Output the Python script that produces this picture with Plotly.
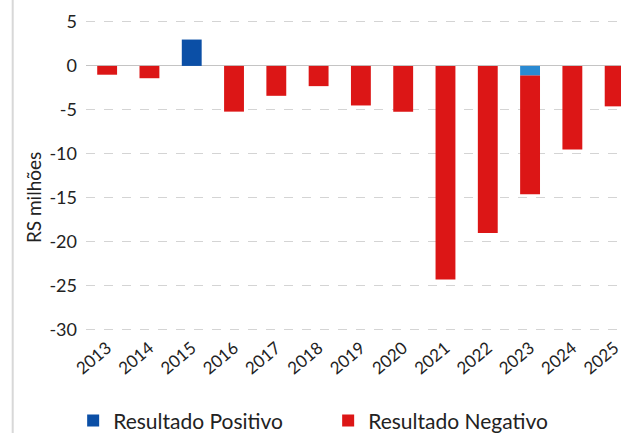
import plotly.graph_objects as go

# data (R$ milhões)
anos = ["2013", "2014", "2015", "2016", "2017", "2018", "2019",
        "2020", "2021", "2022", "2023", "2024", "2025"]
positivo = [0, 0, 3.0, 0, 0, 0, 0, 0, 0, 0, -1.1, 0, 0]
negativo = [-1.0, -1.4, 0, -5.2, -3.4, -2.3, -4.5,
            -5.2, -24.3, -19.0, -13.5, -9.5, -4.6]
cores_pos = ["#0b4fa6"] * 10 + ["#2a8ad2"] + ["#0b4fa6"] * 2
y_ticks = [5, 0, -5, -10, -15, -20, -25, -30]
y_labels = ["5", "0", "-5", "-10", "-15", "-20", "-25", "-30"]

fig = go.Figure()
fig.add_trace(go.Bar(x=anos, y=positivo, name="Resultado Positivo",
                     marker=dict(color=cores_pos, line=dict(width=0)),
                     width=0.47))
fig.add_trace(go.Bar(x=anos, y=negativo, name="Resultado Negativo",
                     marker=dict(color="#dc1616", line=dict(width=0)),
                     width=0.47))

fig.update_layout(
    width=621, height=433,
    barmode="relative",
    margin=dict(l=86, r=0, t=0, b=99, autoexpand=False),
    paper_bgcolor="white", plot_bgcolor="white",
    font=dict(family="Lato", color="#222"),
    showlegend=True,
    legend=dict(orientation="h", x=-0.024, xanchor="left", y=-0.26,
                yanchor="middle", font=dict(size=21, color="#222"),
                entrywidth=210, entrywidthmode="pixels",
                traceorder="normal"),
)
fig.update_xaxes(range=[-0.5, 12.15], tickangle=-40, automargin=False,
                 tickfont=dict(size=17, color="#222"),
                 showgrid=False, showline=False, ticks="")
fig.update_yaxes(range=[-30.5, 7.5], tickvals=y_ticks, ticktext=y_labels,
                 automargin=False,
                 tickfont=dict(size=18, color="#222"),
                 showgrid=True, gridcolor="#d4d4d4", griddash="dash",
                 zeroline=True, zerolinecolor="#c4c4c4", zerolinewidth=1,
                 ticklabelstandoff=8)

# axis title sits lower than the plot's middle in the reference
fig.add_annotation(text="RS milhões", textangle=-90, showarrow=False,
                   xref="paper", yref="paper", x=-0.099, y=0.407,
                   xanchor="center", yanchor="middle",
                   font=dict(size=19, color="#222"))

# light frame line at the left edge
fig.add_shape(type="line", xref="paper", yref="paper",
              x0=-0.137, x1=-0.137, y0=-0.3, y1=1.0,
              line=dict(color="#d8d8d8", width=2))

# no page margin so the figure sits at the window corner
fig.write_html("out.html", config={"displayModeBar": False},
               post_script="document.body.style.margin='0';"
                           "document.body.style.overflow='hidden';")
